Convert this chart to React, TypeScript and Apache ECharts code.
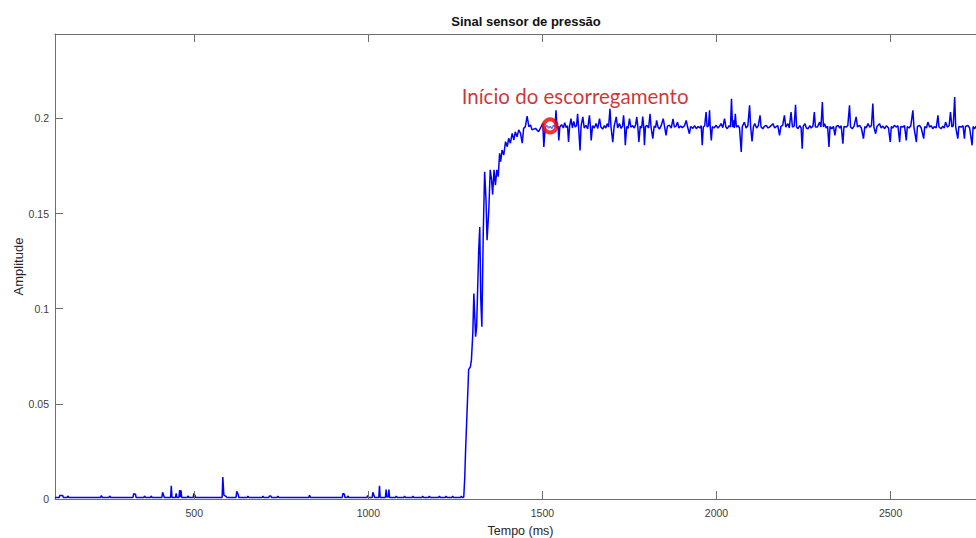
import React, { useEffect, useRef } from "react";
import * as echarts from "echarts";

// Quiet phase before contact: flat baseline with small bumps [time ms, amplitude]
const quietPhase: [number, number][] = [
  [100, 0.0008], [112, 0.0008], [114, 0.0018], [122, 0.0018], [124, 0.0008],
  [135, 0.0008], [137, 0.0016], [140, 0.0008],
  [231, 0.0008], [233, 0.0018], [236, 0.0008],
  [255, 0.0008], [257, 0.0016], [260, 0.0008],
  [324, 0.0008], [326, 0.0028], [331, 0.0025], [333, 0.0008],
  [355, 0.0008], [357, 0.0016], [360, 0.0008],
  [374, 0.0008], [376, 0.0016], [379, 0.0008],
  [407, 0.0008], [409, 0.0035], [412, 0.002], [414, 0.0008],
  [432, 0.0008], [434, 0.007], [436, 0.0008],
  [446, 0.0008], [448, 0.003], [450, 0.0008],
  [456, 0.0008], [458, 0.0047], [460, 0.001], [462, 0.0045], [464, 0.0008],
  [480, 0.0008], [482, 0.0016], [485, 0.0008],
  [497, 0.0008], [499, 0.003], [502, 0.0018], [504, 0.0008],
  [580, 0.0008], [582, 0.0115], [585, 0.002], [590, 0.0015], [594, 0.0008],
  [620, 0.0008], [622, 0.004], [626, 0.0025], [628, 0.0008],
  [652, 0.0008], [654, 0.0015], [657, 0.0008],
  [695, 0.0008], [697, 0.0015], [700, 0.0008],
  [714, 0.0008], [716, 0.0016], [720, 0.0016], [722, 0.0008],
  [738, 0.0008], [740, 0.0015], [743, 0.0008],
  [829, 0.0008], [831, 0.002], [834, 0.0008],
  [925, 0.0008], [927, 0.003], [931, 0.0025], [933, 0.0008],
  [939, 0.0008], [941, 0.0016], [944, 0.0008],
  [996, 0.0008], [998, 0.0018], [1001, 0.0008],
  [1011, 0.0008], [1013, 0.0035], [1016, 0.002], [1018, 0.0008],
  [1030, 0.0008], [1032, 0.007], [1034, 0.0008],
  [1049, 0.0008], [1051, 0.005], [1053, 0.001], [1057, 0.001], [1059, 0.005], [1061, 0.0008],
  [1078, 0.0008], [1080, 0.0015], [1083, 0.0008],
  [1102, 0.0008], [1104, 0.0015], [1107, 0.0008],
  [1126, 0.0008], [1128, 0.0015], [1131, 0.0008],
  [1154, 0.0008], [1156, 0.0015], [1159, 0.0008],
  [1173, 0.0008], [1175, 0.0015], [1178, 0.0008],
  [1202, 0.0008], [1204, 0.0015], [1207, 0.0008],
  [1221, 0.0008], [1223, 0.0015], [1226, 0.0008],
  [1240, 0.0008], [1242, 0.0015], [1245, 0.0008],
  [1265, 0.0008], [1267, 0.0015], [1270, 0.0008],
  [1274, 0.0009],
];

// Loading ramp up to the plateau
const risePhase: [number, number][] = [
  [1277, 0.0117], [1279, 0.024], [1284, 0.0485], [1287, 0.0625], [1288, 0.068],
  [1293, 0.0695], [1296, 0.073], [1300, 0.087], [1303, 0.108], [1308, 0.0853],
  [1311, 0.0906], [1317, 0.131], [1320, 0.143], [1323, 0.1046], [1326, 0.0906],
  [1330, 0.1397], [1334, 0.172], [1338, 0.157], [1341, 0.136], [1346, 0.152],
  [1350, 0.173], [1354, 0.1677], [1357, 0.16], [1361, 0.173], [1365, 0.165],
  [1369, 0.173], [1373, 0.1694], [1377, 0.1817], [1380, 0.1773], [1384, 0.1834],
  [1389, 0.1808], [1394, 0.1878], [1399, 0.1852], [1403, 0.1896], [1408, 0.187],
  [1413, 0.1922], [1418, 0.1887], [1422, 0.193], [1427, 0.1904], [1432, 0.194],
  [1437, 0.1922], [1442, 0.187], [1446, 0.1948], [1451, 0.1957], [1456, 0.2013],
  [1461, 0.1957], [1466, 0.1966], [1470, 0.194], [1480, 0.1948], [1489, 0.193],
  [1501, 0.1975], [1504, 0.185],
];

// Sliding plateau with spikes
const plateauPhase: [number, number][] = [
  [1508, 0.1955], [1513, 0.1962], [1518, 0.195], [1522, 0.1958], [1527, 0.1948],
  [1532, 0.1965], [1536, 0.1955], [1539, 0.2043], [1542, 0.195], [1545, 0.196],
  [1547, 0.1885], [1550, 0.1955], [1555, 0.1968], [1560, 0.195], [1564, 0.1978],
  [1568, 0.1952], [1572, 0.1962], [1575, 0.1876], [1578, 0.1958], [1582, 0.1999],
  [1586, 0.195], [1590, 0.1985], [1594, 0.1955], [1598, 0.1962], [1601, 0.2025],
  [1604, 0.1952], [1608, 0.1832], [1611, 0.196], [1616, 0.2008], [1620, 0.195],
  [1625, 0.1964], [1630, 0.1945], [1635, 0.2016], [1638, 0.1955], [1640, 0.1885],
  [1644, 0.1962], [1649, 0.195], [1654, 0.1973], [1659, 0.1948], [1664, 0.1999],
  [1668, 0.1955], [1673, 0.1944], [1678, 0.1962], [1682, 0.195], [1686, 0.1973],
  [1690, 0.1955], [1694, 0.2051], [1697, 0.1955], [1702, 0.1876], [1706, 0.196],
  [1712, 0.2008], [1716, 0.195], [1721, 0.1973], [1726, 0.1948], [1730, 0.196],
  [1733, 0.2016], [1736, 0.195], [1738, 0.1859], [1742, 0.1958], [1746, 0.1948],
  [1750, 0.1999], [1754, 0.1955], [1759, 0.1962], [1764, 0.195], [1768, 0.197],
  [1771, 0.2008], [1774, 0.1955], [1777, 0.1876], [1781, 0.196], [1785, 0.195],
  [1788, 0.201], [1791, 0.1955], [1793, 0.186], [1796, 0.1958], [1800, 0.1964],
  [1805, 0.195], [1809, 0.2025], [1812, 0.1955], [1817, 0.1894], [1821, 0.196],
  [1825, 0.1952], [1828, 0.199], [1832, 0.1955], [1836, 0.1944], [1841, 0.1962],
  [1847, 0.1999], [1851, 0.1955], [1855, 0.1911], [1859, 0.196], [1865, 0.1964],
  [1870, 0.195], [1875, 0.1998], [1879, 0.1955], [1884, 0.196], [1888, 0.1981],
  [1892, 0.195], [1897, 0.196], [1902, 0.1952], [1908, 0.1962], [1913, 0.199],
  [1917, 0.1955], [1922, 0.192], [1926, 0.1958], [1932, 0.1948], [1937, 0.1962],
  [1942, 0.1946], [1947, 0.1958], [1952, 0.195], [1956, 0.1962], [1959, 0.1859],
  [1962, 0.1955], [1966, 0.1962], [1970, 0.2034], [1973, 0.1955], [1977, 0.1962],
  [1980, 0.2043], [1982, 0.1955], [1985, 0.1885], [1988, 0.1958], [1993, 0.195],
  [1999, 0.1964], [2004, 0.195], [2009, 0.196], [2013, 0.1973], [2018, 0.1952],
  [2023, 0.1999], [2027, 0.1955], [2031, 0.1946], [2036, 0.1962], [2040, 0.1955],
  [2043, 0.2104], [2046, 0.1955], [2049, 0.199], [2051, 0.195], [2054, 0.2025],
  [2057, 0.1955], [2062, 0.1962], [2066, 0.195], [2071, 0.1824], [2074, 0.1958],
  [2080, 0.1981], [2085, 0.195], [2090, 0.1962], [2095, 0.2069], [2098, 0.1955],
  [2102, 0.188], [2106, 0.1958], [2110, 0.1973], [2115, 0.195], [2120, 0.1962],
  [2125, 0.2016], [2128, 0.1955], [2133, 0.1946], [2138, 0.196], [2143, 0.1964],
  [2148, 0.195], [2152, 0.1955], [2157, 0.1962], [2162, 0.1973], [2167, 0.195],
  [2172, 0.1958], [2176, 0.1962], [2181, 0.1911], [2185, 0.1958], [2190, 0.1964],
  [2195, 0.2016], [2199, 0.1955], [2205, 0.1973], [2209, 0.195], [2214, 0.2034],
  [2218, 0.1955], [2223, 0.196], [2227, 0.2072], [2230, 0.1955], [2234, 0.1946],
  [2239, 0.1962], [2243, 0.195], [2246, 0.1841], [2249, 0.1958], [2254, 0.1973],
  [2258, 0.195], [2263, 0.1946], [2268, 0.1962], [2272, 0.195], [2277, 0.196],
  [2281, 0.2034], [2284, 0.1955], [2290, 0.1955], [2296, 0.1981], [2300, 0.1955],
  [2304, 0.2086], [2307, 0.1955], [2310, 0.1973], [2315, 0.195], [2319, 0.196],
  [2323, 0.185], [2326, 0.1958], [2331, 0.1946], [2336, 0.1958], [2340, 0.1911],
  [2344, 0.1958], [2349, 0.1964], [2354, 0.195], [2358, 0.1962], [2363, 0.1867],
  [2366, 0.1958], [2372, 0.1955], [2377, 0.1962], [2382, 0.2069], [2385, 0.1955],
  [2390, 0.1946], [2395, 0.196], [2401, 0.2008], [2405, 0.1955], [2411, 0.1964],
  [2416, 0.195], [2422, 0.1894], [2426, 0.1958], [2430, 0.195], [2435, 0.1973],
  [2440, 0.1955], [2445, 0.1962], [2449, 0.2078], [2452, 0.1955], [2457, 0.192],
  [2461, 0.1958], [2468, 0.1973], [2473, 0.195], [2478, 0.196], [2483, 0.1946],
  [2488, 0.1962], [2494, 0.195], [2499, 0.1876], [2502, 0.1958], [2506, 0.195],
  [2511, 0.1964], [2516, 0.1955], [2521, 0.1962], [2526, 0.1876], [2529, 0.1958],
  [2535, 0.1955], [2540, 0.1962], [2545, 0.1885], [2548, 0.1958], [2553, 0.195],
  [2558, 0.1962], [2564, 0.2043], [2567, 0.1955], [2574, 0.1876], [2577, 0.1958],
  [2583, 0.1964], [2588, 0.195], [2595, 0.1894], [2598, 0.1958], [2603, 0.195],
  [2607, 0.1981], [2612, 0.1955], [2617, 0.1962], [2621, 0.1946], [2626, 0.1958],
  [2631, 0.195], [2636, 0.2016], [2639, 0.1955], [2645, 0.1946], [2650, 0.196],
  [2654, 0.195], [2658, 0.1981], [2663, 0.1955], [2668, 0.1962], [2672, 0.2034],
  [2676, 0.1955], [2680, 0.1962], [2684, 0.2113], [2687, 0.1955], [2693, 0.1894],
  [2696, 0.1958], [2703, 0.1955], [2708, 0.1962], [2712, 0.1894], [2715, 0.1958],
  [2722, 0.1964], [2727, 0.195], [2734, 0.1859], [2737, 0.1958], [2741, 0.1946],
  [2746, 0.196], [2752, 0.1955], [2758, 0.1964], [2764, 0.195], [2770, 0.1958],
];

// Marked instant where slipping begins
const slipStart: [number, number] = [1522, 0.1961];
const slipLabel = "Início do escorregamento";

const xTicks = [500, 1000, 1500, 2000, 2500];
const yTicks = [0, 0.05, 0.1, 0.15, 0.2];
const xRange = [100, 2774];
const yRange = [0, 0.2444];

const axisGrey = "#6e6e6e";
const labelGrey = "#3c3c3c";
const font = "'Liberation Sans', Arial, sans-serif";

const gridBox = { left: 55, top: 34, width: 931, height: 465 };
const tickLen = 8;

export default function App() {
  const ref = useRef<HTMLDivElement>(null);

  useEffect(() => {
    if (!ref.current) return;
    const chart = echarts.init(ref.current, undefined, { renderer: "svg" });
    const signal = [...quietPhase, ...risePhase, ...plateauPhase];

    // Inward tick length expressed in each axis' data units
    const dy = (tickLen / gridBox.height) * (yRange[1] - yRange[0]);
    const dx = (tickLen / gridBox.width) * (xRange[1] - xRange[0]);
    const tickSegments = [
      ...xTicks.map((v) => [{ coord: [v, yRange[0]] }, { coord: [v, yRange[0] + dy] }]),
      ...xTicks.map((v) => [{ coord: [v, yRange[1]] }, { coord: [v, yRange[1] - dy] }]),
      ...yTicks.map((v) => [{ coord: [xRange[0], v] }, { coord: [xRange[0] + dx, v] }]),
    ];

    const baseAxis = {
      type: "value",
      min: xRange[0],
      max: xRange[1],
      splitLine: { show: false },
      axisTick: { show: false },
    };

    chart.setOption({
      animation: false,
      backgroundColor: "#ffffff",
      textStyle: { fontFamily: font },
      title: {
        text: "Sinal sensor de pressão",
        left: 521,
        textAlign: "center",
        top: 10,
        textStyle: { fontFamily: font, fontSize: 13, fontWeight: "bold", color: "#111" },
      },
      grid: { ...gridBox, outerBoundsMode: "none", containLabel: false },
      xAxis: [
        {
          ...baseAxis,
          position: "bottom",
          name: "Tempo (ms)",
          nameLocation: "middle",
          nameGap: 25,
          nameMoveOverlap: false,
          nameTextStyle: { fontFamily: font, fontSize: 12.5, color: "#262626" },
          axisLine: { show: true, onZero: false, lineStyle: { color: axisGrey, width: 1 } },
          axisLabel: {
            customValues: xTicks,
            margin: 8,
            fontFamily: font,
            fontSize: 10.5,
            color: labelGrey,
            formatter: (v: number) => String(v),
          },
        },
        {
          ...baseAxis,
          position: "top",
          axisLine: { show: true, onZero: false, lineStyle: { color: axisGrey, width: 1 } },
          axisLabel: { show: false },
        },
      ],
      yAxis: {
        type: "value",
        min: yRange[0],
        max: yRange[1],
        name: "Amplitude",
        nameLocation: "middle",
        nameGap: 30,
        nameMoveOverlap: false,
        nameTextStyle: { fontFamily: font, fontSize: 13, color: "#262626" },
        axisLine: { show: true, onZero: false, lineStyle: { color: axisGrey, width: 1 } },
        axisTick: { show: false },
        axisLabel: {
          customValues: yTicks,
          margin: 6,
          fontFamily: font,
          fontSize: 10.5,
          color: labelGrey,
          formatter: (v: number) => String(v),
        },
        splitLine: { show: false },
      },
      series: [
        {
          type: "line",
          xAxisIndex: 0,
          data: signal,
          showSymbol: false,
          symbol: "none",
          lineStyle: { color: "#0000ff", width: 1.5 },
          itemStyle: { color: "#0000ff" },
          z: 2,
          markLine: {
            silent: true,
            symbol: ["none", "none"],
            label: { show: false },
            lineStyle: { color: axisGrey, width: 1, type: "solid" },
            emphasis: { disabled: true },
            data: tickSegments,
          },
        },
        {
          type: "scatter",
          xAxisIndex: 0,
          data: [slipStart],
          symbol: "circle",
          symbolSize: 13,
          itemStyle: { color: "rgba(255,255,255,0.55)", borderColor: "#f00000", borderWidth: 4 },
          label: {
            show: true,
            formatter: slipLabel,
            position: "top",
            distance: 11,
            offset: [25, 0],
            fontFamily: "Lato, 'Open Sans', sans-serif",
            fontSize: 20.5,
            color: "#c00000",
          },
          z: 3,
        },
      ],
    });

    return () => chart.dispose();
  }, []);

  return (
    <div
      ref={ref}
      style={{ position: "fixed", left: 0, top: 0, width: 976, height: 538, overflow: "hidden" }}
    />
  );
}
